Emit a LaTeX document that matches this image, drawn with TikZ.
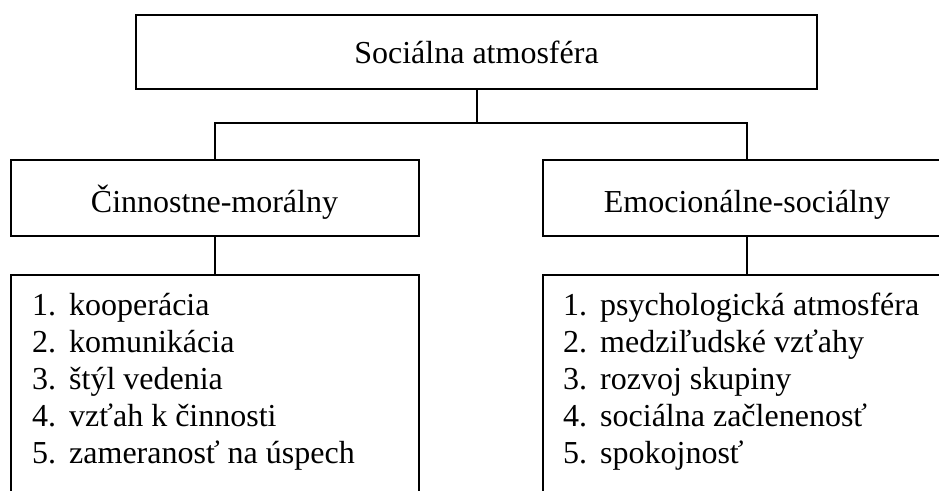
\documentclass[tikz,border=0pt]{standalone}
\usepackage{fontspec}
\setmainfont{Liberation Serif}
\newcommand{\numit}[1]{\makebox[37pt][l]{#1}}
\begin{document}
\begin{tikzpicture}[x=1pt,y=-1pt,
  box/.style={draw,line width=2pt,inner sep=0pt,font=\fontsize{32}{37}\selectfont,text depth=0pt},
  conn/.style={line width=2pt},
  listtext/.style={inner sep=0pt,anchor=base west,font=\fontsize{32}{37}\selectfont}]
\useasboundingbox (0,0) rectangle (939,490);
\clip (0,0) rectangle (939,490);
\fill[white] (0,0) rectangle (939,490);
\node[box,minimum width=681pt,minimum height=74pt,text height=22pt] (top) at (476.5,52) {Sociálna atmosféra};
\node[box,minimum width=408pt,minimum height=76pt,text height=28pt] (ml) at (214.5,198) {Činnostne-morálny};
\node[box,minimum width=408pt,minimum height=76pt,text height=28pt] (mr) at (747,198) {Emocionálne-sociálny};
\node[box,minimum width=408pt,minimum height=260pt] (bl) at (214.5,405) {};
\node[box,minimum width=408pt,minimum height=260pt] (br) at (747,405) {};
\coordinate (j) at (478,123);
\draw[conn] (top.south) -- (top.south |- j);
\draw[conn] (ml.north) |- (j) -| (mr.north);
\draw[conn] (ml.south) -- (bl.north);
\draw[conn] (mr.south) -- (br.north);
\node[listtext] (ll) at (32,315) {\begin{tabular}[t]{@{}l@{}}
\numit{1.}kooperácia\\
\numit{2.}komunikácia\\
\numit{3.}štýl vedenia\\
\numit{4.}vzťah k činnosti\\
\numit{5.}zameranosť na úspech
\end{tabular}};
\node[listtext] (lr) at (563,315) {\begin{tabular}[t]{@{}l@{}}
\numit{1.}psychologická atmosféra\\
\numit{2.}medziľudské vzťahy\\
\numit{3.}rozvoj skupiny\\
\numit{4.}sociálna začlenenosť\\
\numit{5.}spokojnosť
\end{tabular}};
\end{tikzpicture}
\end{document}
